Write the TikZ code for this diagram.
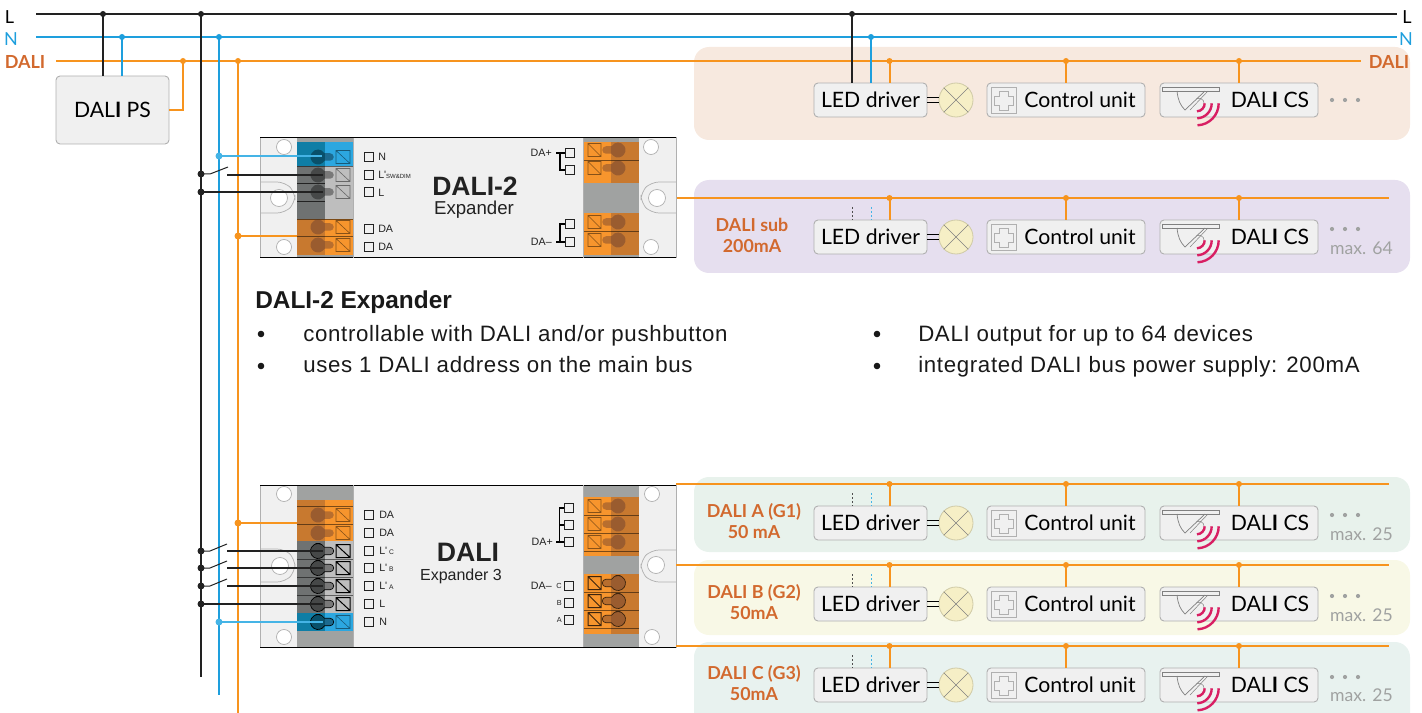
\documentclass[tikz,border=0pt]{standalone}
\usepackage{fontspec}
\setmainfont{Lato}
\newfontfamily\arial{Liberation Sans}
\newfontfamily\body[LetterSpace=3]{Liberation Sans}
\usetikzlibrary{calc}
\definecolor{cblk}{HTML}{222222}
\definecolor{cblu}{HTML}{1E9FDD}
\definecolor{cblul}{HTML}{45B4E6}
\definecolor{corg}{HTML}{F7941E}
\definecolor{ctxt}{HTML}{D2692E}
\definecolor{cbox}{HTML}{F0F0F0}
\definecolor{cedge}{HTML}{B0B0B0}
\definecolor{cgray}{HTML}{A0A2A1}
\definecolor{pink}{HTML}{D81F63}
\definecolor{orgL}{HTML}{F7952D}
\definecolor{orgD}{HTML}{C8792F}
\definecolor{bluL}{HTML}{2CA7E0}
\definecolor{bluD}{HTML}{0F7EA6}
\definecolor{gryL}{HTML}{BEBEBE}
\definecolor{gryD}{HTML}{6F7272}
\definecolor{lampc}{HTML}{F6EFC6}
\definecolor{lampe}{HTML}{CFCAA6}
\definecolor{bulbO}{HTML}{4A2A30}
\definecolor{F1}{HTML}{F7E9DF}
\definecolor{F2}{HTML}{E6DFEF}
\definecolor{F3}{HTML}{E8F2EC}
\definecolor{F4}{HTML}{F8F8E6}
\definecolor{F5}{HTML}{E8F2EF}
\def\px{0.75pt}
\tikzset{
 panel/.style={rounded corners=15*\px,draw=none},
 wblk/.style={draw=cblk,line width=2.2*\px},
 wblu/.style={draw=cblu,line width=2.2*\px},
 worg/.style={draw=corg,line width=2.2*\px},
 thinblu/.style={draw=cblul,line width=1.5*\px},
 bus/.style={draw=corg,line width=1.7*\px},
 unit/.style={draw=cedge,fill=cbox,rounded corners=4*\px,line width=0.9*\px,inner sep=0pt,
   minimum height=34*\px,font=\fontsize{15.9}{18}\selectfont,text=black},
 lamp/.style={circle,draw=lampe,fill=lampc,line width=0.8*\px,minimum size=34*\px,inner sep=0pt},
 ptext/.style={text=ctxt,font=\fontsize{13.4}{15.75}\selectfont\bfseries,align=center,inner sep=0pt},
 mx/.style={text=cgray,font=\fontsize{13.2}{14}\selectfont,inner sep=0pt},
 bullet/.style={font=\fontsize{16.7}{18}\selectfont\body,anchor=base west,inner sep=0pt,text=black!90},
 lab/.style={font=\fontsize{8}{9}\selectfont\arial,anchor=west,inner sep=0pt,text=cblk},
 sq/.style={draw=cblk,line width=0.9*\px,fill=none,minimum size=9*\px,inner sep=0pt},
 body/.style={draw=cedge,fill=cbox,line width=1*\px,inner sep=0pt},
 hole/.style={circle,draw=cedge,fill=white,line width=0.7*\px,inner sep=0pt},
 jd/.style={circle,fill=#1,inner sep=0pt,minimum size=6*\px},
 bulb/.style={fill=#1,fill opacity=.36},
 sqt/.style={draw=black,draw opacity=.45,line width=0.6*\px},
 wire/.style={draw=cblk,line width=1.7*\px},
}
% luminaire row: id, y of unit centre, y of bus
\newcommand{\lumrow}[3]{%
 \node[unit,minimum width=113*\px] (drv#1) at (870.5,#2) {LED driver};
 \node[lamp] (lmp#1) at (956,#2) {};
 \draw[draw=gray,line width=.5*\px] (lmp#1.north west)--(lmp#1.south east) (lmp#1.north east)--(lmp#1.south west);
 \draw[draw=black,line width=.8*\px] ([yshift=2.4*\px]drv#1.east)--([yshift=2.4*\px]drv#1.east-|lmp#1.west) ([yshift=-2.4*\px]drv#1.east)--([yshift=-2.4*\px]drv#1.east-|lmp#1.west);
 \node[unit,minimum width=158*\px] (cu#1) at (1066,#2) {\hspace*{21pt}Control unit};
 \draw[draw=cedge,line width=.7*\px] (991,#2-13) rectangle (1016,#2+13)
   (999,#2-9)--(1008,#2-9)--(1008,#2-4)--(1013,#2-4)--(1013,#2+5)--(1008,#2+5)--(1008,#2+10)--(999,#2+10)--(999,#2+5)--(994,#2+5)--(994,#2-4)--(999,#2-4)--cycle;
 \node[unit,minimum width=158*\px] (cs#1) at (1239,#2) {\hspace*{46.5pt}DAL\textbf{I} CS};
 \fill[fill=cbox,draw=gray,line width=.6*\px] (1162,#2-13) rectangle (1219,#2-9);
 \draw[draw=gray,line width=.7*\px] (1177,#2-9) .. controls (1178,#2) and (1180,#2+5) .. (1185,#2+10)--(1205,#2-9);
 \draw[draw=gray,line width=.5*\px] (1190,#2+10)--(1208,#2-9) (1196.5,#2-1.3) arc (-120:0:5);
 \foreach \r in {8,15,22}{\draw[draw=pink,line width=2.4*\px] (1196.7+\r,#2+3.3) arc (0:88:\r);}
 \foreach \xx/\nm in {889.5/p,1066/q,1239/r}{
  \coordinate (t\nm#1) at (\xx,#3);
  \draw[worg,line width=2*\px] (t\nm#1)--(t\nm#1|-drv#1.north);
  \node[jd=corg] (j\nm#1) at (t\nm#1) {};}
}
\newcommand{\stubs}[2]{%
 \coordinate (sk#1) at (852,#2-30);\coordinate (sb#1) at (871,#2-30);
 \draw[draw=cblk!80,line width=1*\px,dash pattern=on 1.5pt off 1.5pt] (sk#1)--(sk#1|-drv#1.north);
 \draw[draw=cblul,line width=1*\px,dash pattern=on 1.5pt off 1.5pt] (sb#1)--(sb#1|-drv#1.north);
}
\newcommand{\threedots}[1]{\foreach \xx in {1332,1345,1358}{\fill[fill=cgray] (\xx,#1) circle (2.1);}}
% left-hand and right-hand terminals: y, bulb colour, outline
\newcommand{\lterm}[4][sqt]{%
 \draw[bulb=#3,draw=#4,line width=.7*\px] (318,#2-7.5) arc (-90:-30:7.5) -- (330,#2-3.75) arc (-90:90:3.75) -- (324.5,#2+3.75) arc (30:270:7.5) -- cycle;
 \draw[#1] (336,#2-6.5) rectangle (350,#2+6.5) (336,#2-6.5)--(350,#2+6.5);
}
\newcommand{\rterm}[4][sqt]{%
 \draw[bulb=#3,draw=#4,line width=.7*\px] (618,#2-7.5) arc (-90:-150:7.5) -- (606,#2-3.75) arc (-90:-270:3.75) -- (611.5,#2+3.75) arc (150:-90:7.5) -- cycle;
 \draw[#1] (588,#2-6.5) rectangle (601,#2+6.5) (588,#2-6.5)--(601,#2+6.5);
}
\newcommand{\lband}[4]{\fill[fill=#3] (297,#1) rectangle (325,#2);\fill[fill=#4] (325,#1) rectangle (353,#2);}
\newcommand{\rband}[4]{\fill[fill=#4] (583,#1) rectangle (611,#2);\fill[fill=#3] (611,#1) rectangle (639,#2);}
\begin{document}
\begin{tikzpicture}[x=0.75pt,y=-0.75pt]
\useasboundingbox (0,0) rectangle (1422,713);
% panels
\begin{scope}
\clip (0,0) rectangle (1422,713);
\fill[panel,fill=F1] (694,47) rectangle (1410,140);
\fill[panel,fill=F2] (694,180) rectangle (1410,273);
\fill[panel,fill=F3] (694,477) rectangle (1410,552);
\fill[panel,fill=F4] (694,560) rectangle (1410,635);
\fill[panel,fill=F5] (694,642) rectangle (1410,730);
\end{scope}

% labels of mains
\node[inner sep=0pt,font=\fontsize{13.5}{15}\selectfont,text=black] (lL) at (9.5,17) {L};
\node[inner sep=0pt,font=\fontsize{13.5}{15}\selectfont,text=cblu] (lN) at (11,39) {N};
\node[inner sep=0pt,font=\fontsize{13.5}{15}\selectfont\bfseries,text=ctxt] (lD) at (25,62) {DALI};
\node[inner sep=0pt,font=\fontsize{13.5}{15}\selectfont,text=black] (rL) at (1407,17) {L};
\node[inner sep=0pt,font=\fontsize{13.5}{15}\selectfont,text=cblu] (rN) at (1406,39) {N};
\node[inner sep=0pt,font=\fontsize{13.5}{15}\selectfont\bfseries,text=ctxt] (rD) at (1389,62) {DALI};
\coordinate (Ls) at (36,14);\coordinate (Le) at (1397,14);
\coordinate (Ns) at (36,37);\coordinate (Ne) at (1397,37);
\coordinate (Ds) at (56,61);\coordinate (De) at (1361,61);

% DALI PS
\node[unit,minimum width=113*\px,minimum height=68*\px] (ps) at (112.5,110) {DAL\textbf{I} PS};
% tee points on mains
\coordinate (a1) at (103,14);\coordinate (a2) at (122,37);\coordinate (a3) at (183,61);
\coordinate (b1) at (201,14);\coordinate (b2) at (219,37);\coordinate (b3) at (238,61);
\coordinate (c1) at (852,14);\coordinate (c2) at (871,37);
\coordinate (e1) at (201,677);\coordinate (e2) at (219,695);\coordinate (e3) at (238,713);

% row content
\lumrow{a}{100}{61}
\lumrow{b}{237}{198}
\lumrow{c}{523}{484}
\lumrow{d}{604}{565}
\lumrow{e}{685}{646}
\stubs{b}{237}\stubs{c}{523}\stubs{d}{604}\stubs{e}{685}
\threedots{100}\threedots{229}\threedots{515}\threedots{596}\threedots{677}
\node[mx] (m1) at (1361.5,248) {max. 64};
\node[mx] (m2) at (1361.5,534) {max. 25};
\node[mx] (m3) at (1361.5,615) {max. 25};
\node[mx] (m4) at (1361.5,695) {max. 25};
\node[ptext] (p1) at (752,235.5) {DAL\textbf{I} sub\\200mA};
\node[ptext] (p2) at (754,521.5) {DALI A (G1)\\50 mA};
\node[ptext] (p3) at (754,602.5) {DALI B (G2)\\50mA};
\node[ptext] (p4) at (754,683) {DALI C (G3)\\50mA};

% ---------- Expander 1
\node[body,minimum width=416*\px,minimum height=120*\px] (x1) at (468,198) {};
\fill[fill=cgray] (297,138) rectangle (353,258);
\fill[fill=cgray] (583,138) rectangle (639,258);
\lband{142}{166}{bluD}{bluL}
\lband{166}{219}{gryD}{gryL}
\lband{219}{255}{orgD}{orgL}
\rband{142}{183}{orgD}{orgL}
\rband{213}{255}{orgD}{orgL}
\draw[draw=black,draw opacity=.5,line width=.6*\px] (297,166)--(353,166) (297,219)--(353,219) (297,236)--(353,236);
\draw[draw=cblk,line width=.8*\px] (297,183)--(325,183) (297,201)--(325,201);
\draw[draw=black,draw opacity=.5,line width=.6*\px] (583,160)--(639,160) (583,231)--(639,231);
\draw[draw=black,line width=1*\px] (260,138)--(676,138) (260,258)--(676,258);
\draw[draw=cedge,line width=.8*\px] (353,138)--(353,258) (583,138)--(583,258);
\lterm{157}{black}{none}\lterm{175}{black}{none}\lterm{192}{black}{none}
\lterm{227}{bulbO}{none}\lterm{245}{bulbO}{none}
\rterm{150}{bulbO}{none}\rterm{168}{bulbO}{none}
\rterm{222}{bulbO}{none}\rterm{240}{bulbO}{none}
\draw[draw=cedge,line width=.7*\px,rounded corners=8*\px] (260,182)--(285,182)--(295,192)--(295,203)--(285,213)--(260,213);
\draw[draw=cedge,line width=.7*\px,rounded corners=8*\px] (676,182)--(651,182)--(641,192)--(641,203)--(651,213)--(676,213);
\node[hole,minimum size=15*\px] (h11) at (284,147) {};
\node[hole,minimum size=15*\px] (h12) at (284,247) {};
\node[hole,minimum size=17*\px] (h13) at (279,198) {};
\node[hole,minimum size=15*\px] (h14) at (651,147) {};
\node[hole,minimum size=15*\px] (h15) at (651,247) {};
\node[hole,minimum size=17*\px] (h16) at (657,198) {};
\node[inner sep=0pt,font=\fontsize{19.9}{20}\selectfont\arial\bfseries,text=cblk] (t11) at (475,186) {DALI-2};
\node[inner sep=0pt,font=\fontsize{14}{15}\selectfont\arial,text=cblk] (t12) at (474,210) {Expander};
% pins
\foreach \n/\yy in {a/157,b/175,c/192,d/229,e/247}{\node[sq] (q1\n) at (369,\yy) {};}
\node[lab] (l1a) at (378,157) {N};
\node[lab] (l1b) at (378,175) {L'{\fontsize{4.5}{5}\selectfont SW\&DIM}};
\node[lab] (l1c) at (378,192.5) {L};
\node[lab] (l1d) at (378,229) {DA};
\node[lab] (l1e) at (378,247) {DA};
\foreach \n/\yy in {f/153,g/170,h/224,i/242}{\node[sq] (q1\n) at (570,\yy) {};}
\node[lab,anchor=east] (l1f) at (552,153) {DA+};
\node[lab,anchor=east] (l1i) at (552,242) {DA–};
\draw[draw=black,line width=1.4*\px] (q1f.west)--(556,153) (560,153)--(560,170)--(q1g.west);
\draw[draw=black,line width=1.4*\px] (q1i.west)--(556,242) (560,242)--(560,224)--(q1h.west);

% mains
\draw[wblk] (Ls)--(Le);
\draw[wblu] (Ns)--(Ne);
\draw[worg] (Ds)--(De);
\draw[wblk] (a1)--(a1|-ps.north);
\draw[wblu] (a2)--(a2|-ps.north);
\draw[worg] (ps.east)-|(a3);
\draw[wblk] (b1)--(e1);
\draw[wblu] (b2)--(e2);
\draw[worg] (b3)--(e3);
\draw[wblk] (c1)--(c1|-drva.north);
\draw[wblu] (c2)--(c2|-drva.north);
\foreach \cc/\s in {a1/cblk,b1/cblk,c1/cblk,a2/cblu,b2/cblu,c2/cblu,a3/corg,b3/corg}{\node[jd=\s] at (\cc) {};}

% expander 1 wiring
\coordinate (w1a) at (219,156);\coordinate (w1b) at (322,156);
\draw[thinblu] (w1a)--(w1b); \node[jd=cblul,minimum size=7*\px] at (w1a) {};
\coordinate (w1c) at (201,174);\coordinate (w1d) at (228,167);\coordinate (w1e) at (227,175);\coordinate (w1f) at (323,175);
\draw[draw=cblk,line width=1*\px] (w1c)--(210,174)--(w1d);
\draw[wire] (w1e)--(w1f); \node[jd=cblk,minimum size=7*\px] at (w1c) {};
\coordinate (w1g) at (201,192);\coordinate (w1h) at (323,192);
\draw[wire] (w1g)--(w1h); \node[jd=cblk,minimum size=7*\px] at (w1g) {};
\coordinate (w1i) at (238,236);\coordinate (w1j) at (297,236);
\draw[draw=corg,line width=1.5*\px] (w1i)--(w1j); \node[jd=corg,minimum size=7*\px] at (w1i) {};
\draw[bus] (x1.east)--(1389,198);

% ---------- Expander 3
\node[body,minimum width=416*\px,minimum height=162*\px] (x3) at (468,566) {};
\fill[fill=cgray] (297,485) rectangle (353,647);
\fill[fill=cgray] (583,485) rectangle (639,647);
\lband{500}{541}{orgD}{orgL}
\lband{541}{613}{gryD}{gryL}
\lband{613}{631}{bluD}{bluL}
\rband{497}{556}{orgD}{orgL}
\rband{574}{634}{orgD}{orgL}
\draw[draw=black,draw opacity=.5,line width=.6*\px] (297,506)--(353,506) (297,524)--(353,524) (297,559)--(353,559) (297,577)--(353,577) (297,595)--(353,595)
 (583,515)--(639,515) (583,533)--(639,533) (583,551)--(639,551) (583,592)--(639,592) (583,610)--(639,610) (583,628)--(639,628);
\draw[draw=black,line width=1*\px] (260,485)--(676,485) (260,647)--(676,647);
\draw[draw=cedge,line width=.8*\px] (353,485)--(353,647) (583,485)--(583,647);
\lterm{515}{bulbO}{none}\lterm{533}{bulbO}{none}
\lterm[draw=black,line width=1*\px]{551}{black}{black}\lterm[draw=black,line width=1*\px]{568}{black}{black}\lterm[draw=black,line width=1*\px]{586}{black}{black}\lterm[draw=black,line width=1*\px]{604}{black}{black}
\lterm{622}{black}{black}
\rterm{506}{bulbO}{none}\rterm{524}{bulbO}{none}\rterm{542}{bulbO}{none}
\rterm[draw=black!70!orgD,line width=1*\px]{583}{bulbO}{black!70!orgD}\rterm[draw=black!70!orgD,line width=1*\px]{601}{bulbO}{black!70!orgD}\rterm[draw=black!70!orgD,line width=1*\px]{619}{bulbO}{black!70!orgD}
\draw[draw=cedge,line width=.7*\px,rounded corners=8*\px] (260,549)--(285,549)--(295,559)--(295,572)--(285,582)--(260,582);
\draw[draw=cedge,line width=.7*\px,rounded corners=8*\px] (676,550)--(651,550)--(641,560)--(641,572)--(651,582)--(676,582);
\node[hole,minimum size=15*\px] (h31) at (284,494) {};
\node[hole,minimum size=15*\px] (h32) at (284,637) {};
\node[hole,minimum size=17*\px] (h33) at (280,566) {};
\node[hole,minimum size=15*\px] (h34) at (652,494) {};
\node[hole,minimum size=15*\px] (h35) at (652,637) {};
\node[hole,minimum size=17*\px] (h36) at (656,565) {};
\node[inner sep=0pt,font=\fontsize{20}{20}\selectfont\arial\bfseries,text=cblk] (t31) at (468,552) {DALI};
\node[inner sep=0pt,font=\fontsize{12}{15}\selectfont\arial,text=cblk] (t32) at (461,576) {Expander 3};
\foreach \n/\yy in {a/515,b/533,c/551,d/568,e/586,f/604,g/622}{\node[sq] (q3\n) at (369,\yy) {};}
\node[lab] (l3a) at (379,515) {DA};
\node[lab] (l3b) at (379,533) {DA};
\node[lab] (l3c) at (379,551) {L'\,{\fontsize{5}{5}\selectfont C}};
\node[lab] (l3d) at (379,568) {L'\,{\fontsize{5}{5}\selectfont B}};
\node[lab] (l3e) at (379,586) {L'\,{\fontsize{5}{5}\selectfont A}};
\node[lab] (l3f) at (379,604) {L};
\node[lab] (l3g) at (379,622) {N};
\foreach \n/\yy in {h/508,i/525,j/542,k/586,l/603,m/620}{\node[sq] (q3\n) at (569,\yy) {};}
\draw[draw=black,line width=1.4*\px] (q3h.west)--(559.5,508)--(559.5,542) (q3i.west)--(559.5,525) (q3j.west)--(556,542);
\node[lab,anchor=east] (l3j) at (553,542) {DA+};
\node[lab,anchor=east] (l3k) at (552,586) {DA–};
\node[lab,anchor=east,font=\fontsize{5.5}{6}\selectfont\arial] (l3kk) at (562,586) {C};
\node[lab,anchor=east,font=\fontsize{5.5}{6}\selectfont\arial] (l3l) at (562,603) {B};
\node[lab,anchor=east,font=\fontsize{5.5}{6}\selectfont\arial] (l3m) at (562,620) {A};
% wiring
\foreach \k/\yy in {a/551,b/568,c/586}{
 \coordinate (s\k) at (201,\yy);\coordinate (st\k) at (227,\yy-7);\coordinate (sw\k) at (227,\yy);\coordinate (se\k) at (323,\yy);
 \draw[draw=cblk,line width=1*\px] (s\k)--(210,\yy)--(st\k);
 \draw[wire] (sw\k)--(se\k); \node[jd=cblk,minimum size=7*\px] at (s\k) {};}
\coordinate (w3a) at (201,604);\coordinate (w3b) at (323,604);
\draw[wire] (w3a)--(w3b); \node[jd=cblk,minimum size=7*\px] at (w3a) {};
\coordinate (w3c) at (219,622);\coordinate (w3d) at (323,622);
\draw[thinblu] (w3c)--(w3d); \node[jd=cblul,minimum size=7*\px] at (w3c) {};
\coordinate (w3e) at (238,523);\coordinate (w3f) at (297,523);
\draw[draw=corg,line width=1.5*\px] (w3e)--(w3f); \node[jd=corg,minimum size=7*\px] at (w3e) {};
\coordinate (bA) at (676,484);\coordinate (bB) at (676,565);\coordinate (bC) at (676,646);
\draw[bus] (bA)--(1389,484);\draw[bus] (bB)--(1389,565);\draw[bus] (bC)--(1389,646);

% description
\node[inner sep=0pt,anchor=base west,font=\fontsize{18.3}{18}\selectfont\arial\bfseries,text=black!90] (hd) at (255,308) {DALI-2 Expander};
\foreach \n/\xa/\xb/\yy/\tx in {
 a/261/303/341/{controllable with DALI and/or pushbutton},
 b/261/303/373/{uses 1 DALI address on the main bus},
 c/877/918/341/{DALI output for up to 64 devices},
 d/877/918/373/{integrated DALI bus power supply: 200mA}}{
 \fill[fill=black!90] (\xa,\yy-7) circle (3.3);
 \node[bullet] (bl\n) at (\xb,\yy) {\tx};
}
\end{tikzpicture}
\end{document}
